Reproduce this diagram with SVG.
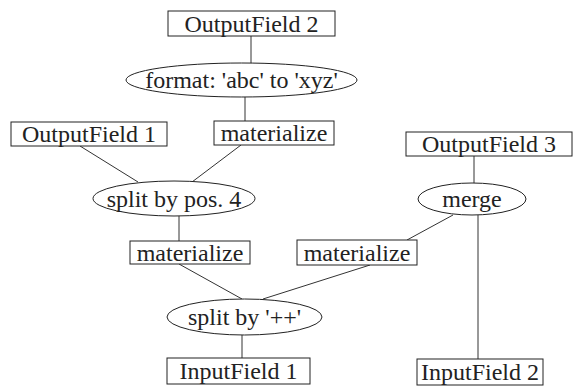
<svg xmlns="http://www.w3.org/2000/svg" width="574" height="386" viewBox="0 0 574 386">
<style>
.box{fill:#fff;stroke:#222;stroke-width:1}
.ell{fill:#fff;stroke:#222;stroke-width:1}
.lbl{font-size:24px;fill:#222;text-anchor:middle}
.edge{stroke:#333;stroke-width:1;fill:none}
</style>
<rect width="574" height="386" fill="#fff"/>
<g id="connectors">
<line class="edge" x1="251" y1="36" x2="251" y2="63"/>
<line class="edge" x1="245" y1="97" x2="245" y2="121"/>
<line class="edge" x1="80" y1="146" x2="138" y2="182"/>
<line class="edge" x1="241" y1="145" x2="192" y2="182"/>
<line class="edge" x1="474" y1="156" x2="474" y2="183"/>
<line class="edge" x1="179" y1="216" x2="179" y2="241"/>
<line class="edge" x1="453" y1="215" x2="407" y2="240"/>
<line class="edge" x1="478" y1="215" x2="478" y2="359"/>
<line class="edge" x1="179" y1="264" x2="242" y2="299"/>
<line class="edge" x1="370" y1="265" x2="263" y2="299"/>
<line class="edge" x1="242" y1="335" x2="242" y2="358"/>
</g>
<g font-family="Liberation Serif, Times New Roman, serif">
<g id="out2"><rect class="box" x="168" y="11" width="167" height="25"/><text class="lbl" x="251.5" y="31.5">OutputField 2</text></g>
<g id="format"><ellipse class="ell" cx="241.5" cy="80" rx="115.5" ry="17"/><text class="lbl" x="241.5" y="88">format: 'abc' to 'xyz'</text></g>
<g id="out1"><rect class="box" x="11" y="122" width="156" height="24"/><text class="lbl" x="89" y="142">OutputField 1</text></g>
<g id="mat1"><rect class="box" x="214" y="121" width="120" height="24"/><text class="lbl" x="274" y="141">materialize</text></g>
<g id="out3"><rect class="box" x="406" y="132" width="166" height="24"/><text class="lbl" x="489" y="152">OutputField 3</text></g>
<g id="merge"><ellipse class="ell" cx="472" cy="199" rx="54" ry="16"/><text class="lbl" x="472" y="207">merge</text></g>
<g id="split4"><ellipse class="ell" cx="174" cy="198.5" rx="81" ry="17.5"/><text class="lbl" x="174" y="206.5">split by pos. 4</text></g>
<g id="mat2"><rect class="box" x="130" y="241" width="120" height="23"/><text class="lbl" x="190" y="260.5">materialize</text></g>
<g id="mat3"><rect class="box" x="297" y="240" width="120" height="25"/><text class="lbl" x="357" y="260.5">materialize</text></g>
<g id="splitpp"><ellipse class="ell" cx="244.5" cy="317" rx="77.5" ry="18"/><text class="lbl" x="244.5" y="325">split by '++'</text></g>
<g id="in1"><rect class="box" x="167" y="358" width="143" height="26"/><text class="lbl" x="238.5" y="379">InputField 1</text></g>
<g id="in2"><rect class="box" x="417" y="359" width="126" height="26"/><text class="lbl" x="480" y="380">InputField 2</text></g>
</g>
</svg>
